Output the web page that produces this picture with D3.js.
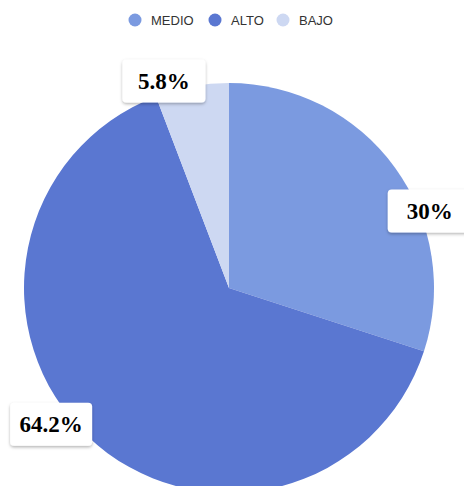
<!DOCTYPE html>
<html><head><meta charset="utf-8">
<script src="https://cdn.jsdelivr.net/npm/d3@7"></script>
<style>
html,body{margin:0;padding:0;background:#fff;overflow:hidden;}
</style></head>
<body>
<svg id="chart" width="464" height="486"></svg>
<script>
const categories = ["MEDIO", "ALTO", "BAJO"];
const values = [30, 64.2, 5.8];
const labels = ["30%", "64.2%", "5.8%"];
const colors = ["#7b9ae0", "#5a77d1", "#cdd8f2"];

const W = 464, H = 486;
const svg = d3.select("#chart");
const defs = svg.append("defs");
const f = defs.append("filter").attr("id","sh").attr("x","-20%").attr("y","-20%").attr("width","140%").attr("height","160%");
f.append("feDropShadow").attr("dx",0).attr("dy",1.5).attr("stdDeviation",1.5).attr("flood-color","#000").attr("flood-opacity",0.3);

const cx = 229, cy = 288, R = 205;
const color = d3.scaleOrdinal().domain(categories).range(colors);
const pie = d3.pie().sort(null).value(d => d.v);
const data = categories.map((c,i)=>({c, v: values[i], l: labels[i]}));
const arcs = pie(data);
const arc = d3.arc().innerRadius(0).outerRadius(R);

const g = svg.append("g").attr("transform", `translate(${cx},${cy})`);
g.selectAll("path").data(arcs).enter().append("path")
  .attr("d", arc).attr("fill", d => color(d.data.c));

// labels: anchored around the slice mid angle with per-label angular nudge
const nudge = {MEDIO: 15, ALTO: 9, BAJO: -7};
const labelR = {MEDIO: 215, ALTO: 224, BAJO: 217};
const boxW = {MEDIO: 84, ALTO: 82, BAJO: 83};
const boxH = 43;
arcs.forEach(d => {
  const mid = (d.startAngle + d.endAngle)/2 + nudge[d.data.c]*Math.PI/180;
  const r = labelR[d.data.c];
  const x = Math.sin(mid)*r, y = -Math.cos(mid)*r;
  const lg = g.append("g").attr("transform", `translate(${x},${y})`);
  const bw = boxW[d.data.c];
  lg.append("rect").attr("x", -bw/2).attr("y", -boxH/2).attr("width", bw).attr("height", boxH)
    .attr("rx", 4).attr("fill", "#fff").attr("filter","url(#sh)");
  lg.append("text").attr("text-anchor","middle").attr("dy","0.35em")
    .attr("font-family","'Liberation Serif','Times New Roman',serif").attr("font-weight","bold")
    .attr("font-size", 23).attr("fill","#000").text(d.data.l);
});

// legend
const legendX = [135, 215, 283];
const lgd = svg.append("g");
categories.forEach((c,i) => {
  lgd.append("circle").attr("cx", legendX[i]).attr("cy", 20).attr("r", 6.5).attr("fill", color(c));
  lgd.append("text").attr("x", legendX[i]+16).attr("y", 20).attr("dy","0.35em")
    .attr("font-family","'Liberation Sans', Arial, sans-serif").attr("font-size", 13)
    .attr("fill","#333").text(c);
});
</script>
</body></html>
